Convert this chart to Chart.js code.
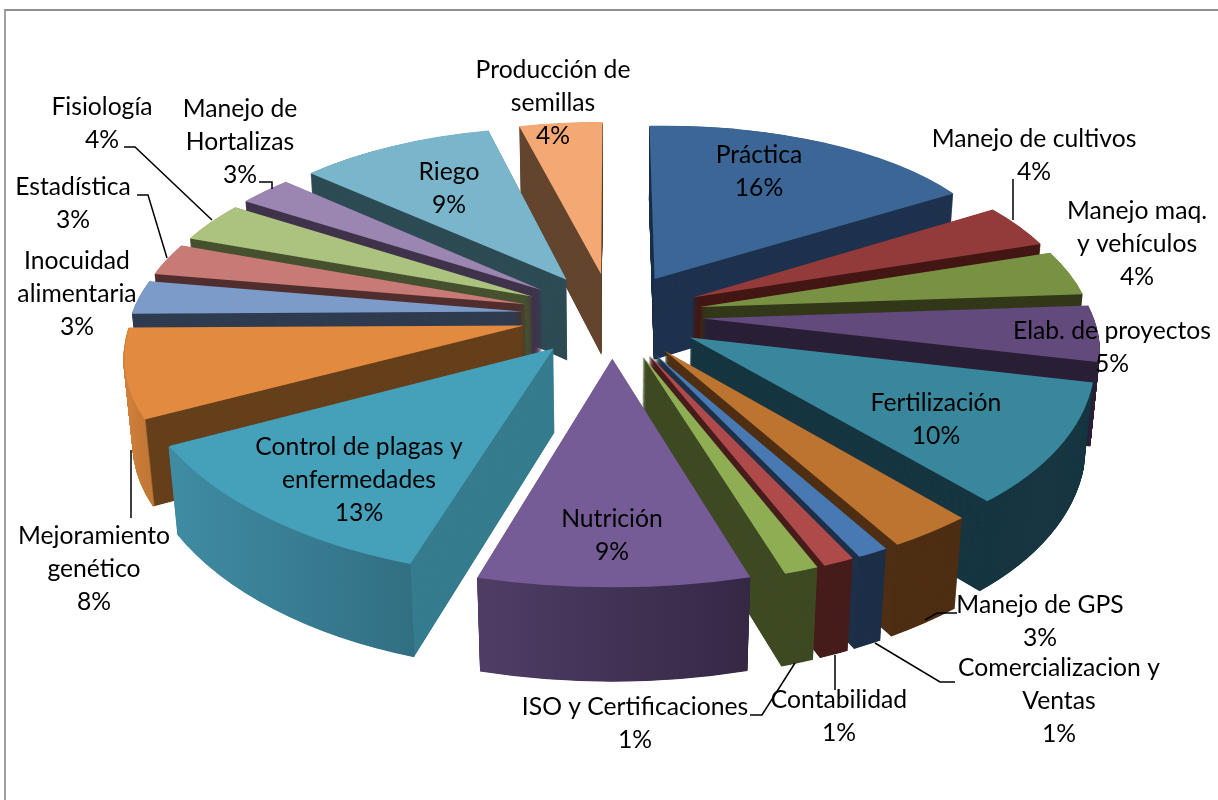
<!DOCTYPE html>
<html>
<head>
<meta charset="utf-8">
<script src="https://cdn.jsdelivr.net/npm/chart.js@4/dist/chart.umd.min.js"></script>
<style>
    html, body { margin: 0; padding: 0; background: #fff; overflow: hidden; }
    #frame { position: absolute; left: 4px; top: 9px; width: 1214px; height: 791px; border-top: 2px solid #8e8e8e; border-left: 2px solid #a0a0a0; }
    #wrap { position: absolute; left: 0; top: 0; width: 1218px; height: 800px; }
</style>
</head>
<body>
<div id="frame"></div>
<div id="wrap"><canvas id="chart"></canvas></div>
<script>
// Datos (los rótulos muestran el valor redondeado)
const categories = [
    'Práctica', 'Manejo de cultivos', 'Manejo maq.\ny vehículos', 'Elab. de proyectos',
    'Fertilización', 'Manejo de GPS', 'Comercializacion y\nVentas', 'Contabilidad',
    'ISO y Certificaciones', 'Nutrición', 'Control de plagas y\nenfermedades',
    'Mejoramiento\ngenético', 'Inocuidad\nalimentaria', 'Estadística', 'Fisiología',
    'Manejo de\nHortalizas', 'Riego', 'Producción de\nsemillas'
];
const percents = [16.2, 3.8, 3.9, 4.8, 10.2, 3, 1.1, 1.1, 1.2, 9.4, 12.6, 7.6, 2.9, 2.8, 3.5, 2.6, 9.4, 4];

// Colores: cara superior, cara radial, pared curva (inicio, fin; null = igual a la radial)
const topColors = [
    '#3c6696', '#933b3b', '#799142', '#624b7c', '#38879c', '#bd7431', '#4879b2', '#ae4a4a', '#8fae54',
    '#765c96', '#45a0ba', '#e28a40', '#7c9bc8', '#c87a77', '#abc37f', '#9b86b1', '#79b6cc', '#f4a874'
];
const faceColors = [
    '#1f334f', '#441815', '#33391a', '#2b2037', '#173641', '#4f2f14', '#1d3048', '#471d1c', '#3e4a23',
    '#3a2c4f', '#367c8f', '#66401c', '#303c50', '#522f2f', '#475230', '#40344c', '#2f4c55', '#64452f'
];
const wallColors = [
    null, null, null, null, null, null, null, null, null,
    ['#4f3d66', '#352845'], ['#3f8ca3', '#326f83'], ['#cf7f3a', '#c27835'],
    null, null, null, null, null, null
];

// Posición de los rótulos (centro de cada bloque, primera línea) y líneas guía
const labelSpots = [
    [759, 155], [1034, 139], [1137, 211], [1112, 331], [936, 403], [1040, 605], [1059, 668], [839, 700], [635, 707],
    [612, 519], [359, 447], [94, 536], [77, 261], [73, 187], [102, 107], [240, 109], [449, 172], [553, 70]
];
const leaderLines = [
    [[1013, 179], [1013, 220]],
    [[124, 147], [135, 147], [212, 220]],
    [[137, 195], [148, 195], [167, 258]],
    [[259, 182], [272, 182], [272, 189]],
    [[925, 620], [937, 613], [957, 613]],
    [[875, 643], [940, 682], [955, 682]],
    [[835, 655], [835, 690]],
    [[795, 663], [762, 715], [750, 715]],
    [[131, 450], [131, 518]]
];

const CAMERA = { cx: 612, cy: 315, dist: 2450, tilt: 0.4905, radius: 391, explode: 90, depth: 95 };

function project(u, v, z) {
    const s = Math.sin(CAMERA.tilt), c = Math.cos(CAMERA.tilt);
    const w = CAMERA.dist + v * c - z * s;
    return {
        x: CAMERA.cx + CAMERA.dist * u / w,
        y: CAMERA.cy - CAMERA.dist * (v * s + z * c) / w
    };
}

// Proyecta el ápice y las dos esquinas de un sector a una altura z
function sliceCorners(arc, z) {
    const mid = (arc.startAngle + arc.endAngle) / 2;
    const au = CAMERA.explode * Math.cos(mid), av = -CAMERA.explode * Math.sin(mid);
    const at = a => project(au + CAMERA.radius * Math.cos(a), av - CAMERA.radius * Math.sin(a), z);
    return { apex: project(au, av, z), p1: at(arc.startAngle), p2: at(arc.endAngle) };
}

// Transformación afín: lleva el sector plano de Chart.js a sus esquinas proyectadas
function applySliceTransform(ctx, arc, c) {
    const r = arc.outerRadius;
    const e11 = r * Math.cos(arc.startAngle), e21 = r * Math.sin(arc.startAngle);
    const e12 = r * Math.cos(arc.endAngle), e22 = r * Math.sin(arc.endAngle);
    const det = e11 * e22 - e12 * e21;
    const d11 = c.p1.x - c.apex.x, d21 = c.p1.y - c.apex.y;
    const d12 = c.p2.x - c.apex.x, d22 = c.p2.y - c.apex.y;
    const m11 = (d11 * e22 - d12 * e21) / det, m12 = (d12 * e11 - d11 * e12) / det;
    const m21 = (d21 * e22 - d22 * e21) / det, m22 = (d22 * e11 - d21 * e12) / det;
    ctx.transform(m11, m21, m12, m22, c.apex.x - (m11 * arc.x + m12 * arc.y), c.apex.y - (m21 * arc.x + m22 * arc.y));
}

function drawWithColor(ctx, arc, color) {
    const saved = arc.options;
    arc.options = Object.assign({}, saved, { backgroundColor: color });
    arc.draw(ctx);
    arc.options = saved;
}

const pie3d = {
    id: 'pie3d',
    beforeDatasetsDraw(chart) {
        const ctx = chart.ctx;
        const arcs = chart.getDatasetMeta(0).data.map((arc, i) => ({ arc, i }));
        // De atrás hacia adelante
        arcs.sort((a, b) => Math.sin((a.arc.startAngle + a.arc.endAngle) / 2) - Math.sin((b.arc.startAngle + b.arc.endAngle) / 2));
        arcs.forEach(({ arc, i }) => {
            const top = sliceCorners(arc, 0);
            let grad = null;
            if (wallColors[i]) {
                grad = ctx.createLinearGradient(Math.min(top.p1.x, top.p2.x), 0, Math.max(top.p1.x, top.p2.x) + 1, 0);
                grad.addColorStop(0, wallColors[i][0]);
                grad.addColorStop(1, wallColors[i][1]);
            }
            for (let h = CAMERA.depth; h > 0; h -= 0.5) {
                const c = sliceCorners(arc, -h);
                ctx.save();
                applySliceTransform(ctx, arc, c);
                drawWithColor(ctx, arc, faceColors[i]);
                ctx.beginPath();
                ctx.arc(arc.x, arc.y, arc.outerRadius, arc.startAngle, arc.endAngle);
                ctx.restore();
                if (grad) {
                    ctx.strokeStyle = grad;
                    ctx.lineWidth = 2;
                    ctx.stroke();
                }
            }
            ctx.save();
            applySliceTransform(ctx, arc, top);
            arc.draw(ctx);
            ctx.restore();
        });
        return false;
    },
    afterDraw(chart) {
        const ctx = chart.ctx;
        ctx.save();
        ctx.strokeStyle = '#000';
        ctx.lineWidth = 1.5;
        leaderLines.forEach(line => {
            ctx.beginPath();
            line.forEach(([x, y], k) => (k ? ctx.lineTo(x, y) : ctx.moveTo(x, y)));
            ctx.stroke();
        });
        ctx.fillStyle = '#000';
        ctx.font = "24.7px Lato, 'Open Sans', sans-serif";
        ctx.textAlign = 'center';
        ctx.textBaseline = 'middle';
        categories.forEach((name, i) => {
            const lines = name.split('\n').concat(Math.round(percents[i]) + '%');
            lines.forEach((text, k) => ctx.fillText(text, labelSpots[i][0], labelSpots[i][1] + k * 33));
        });
        ctx.restore();
    }
};

new Chart(document.getElementById('chart'), {
    type: 'pie',
    data: {
        labels: categories,
        datasets: [{ data: percents, backgroundColor: topColors, borderWidth: 0 }]
    },
    options: {
        responsive: true,
        maintainAspectRatio: false,
        animation: false,
        plugins: { legend: { display: false }, tooltip: { enabled: false } }
    },
    plugins: [pie3d]
});
</script>
</body>
</html>
